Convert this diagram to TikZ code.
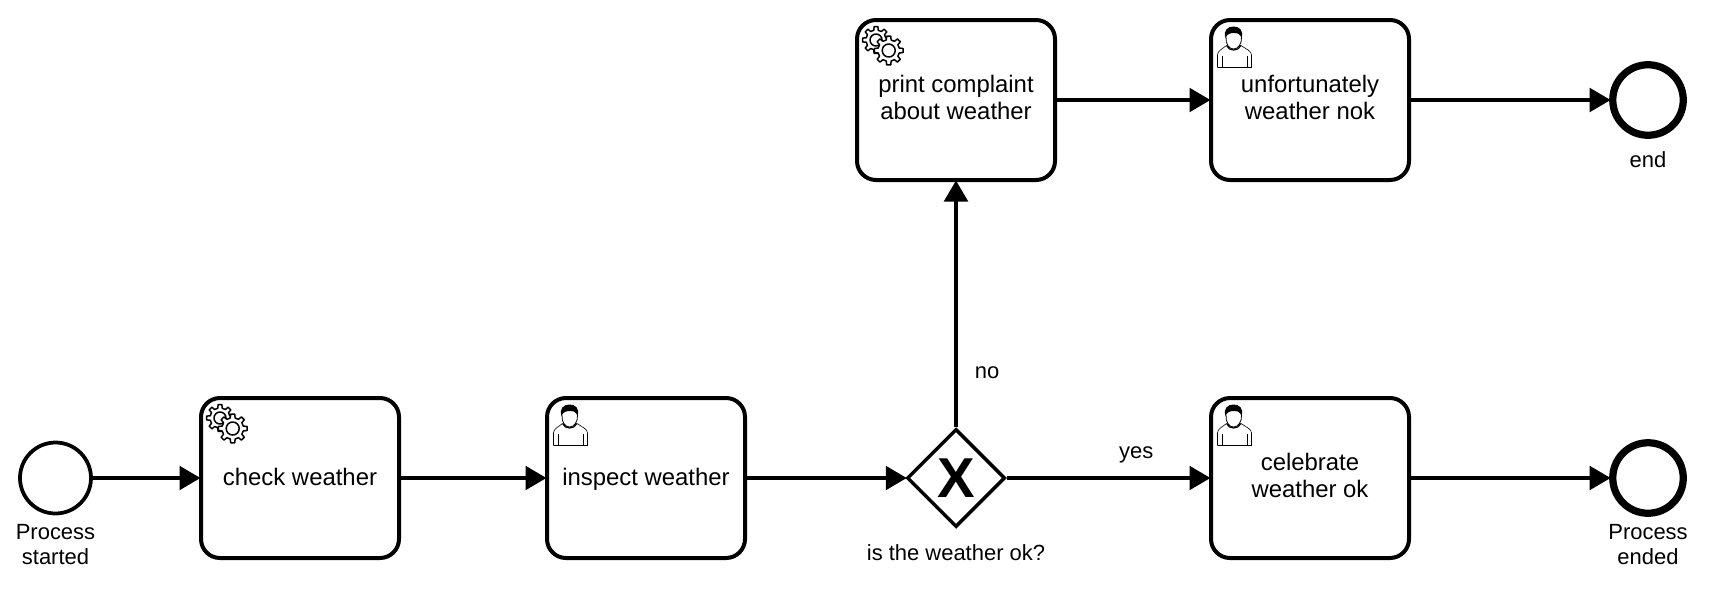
\documentclass[tikz,border=0pt]{standalone}
\usepackage{fontspec}
\setmainfont{Liberation Sans}
\usetikzlibrary{arrows.meta,positioning,shapes.geometric}

\newcommand{\taskstrut}{\vrule width 0pt height 11.5pt depth 2.84pt}

\tikzset{
	task/.style={draw, rectangle, rounded corners=0.38cm, line width=0.08cm, minimum width=3.96cm, minimum height=3.2cm, align=center, inner sep=0, font=\fontsize{13.6}{15.4}\selectfont, execute at begin node=\taskstrut, execute at end node=\taskstrut},
	startevent/.style={draw, circle, line width=0.075cm, minimum size=1.42cm, inner sep=0},
	endevent/.style={draw, circle, line width=0.145cm, minimum size=1.41cm, inner sep=0},
	gate/.style={draw, diamond, line width=0.07cm, minimum width=1.96cm, minimum height=1.96cm, inner sep=0, font=\fontsize{32}{32}\selectfont\bfseries},
	caption/.style={inner sep=0, align=center, font=\fontsize{12.5}{14.2}\selectfont},
	flow/.style={-{Triangle[length=0.42cm,width=0.47cm]}, line width=0.075cm, shorten >=-0.03cm},
	pics/gearicon/.style={code={
		\begin{scope}[x=0.02cm, y=-0.02cm, line width=0.03cm, line join=round]
			% back gear, then front gear over it
			\foreach \cx/\cy/\rout/\rin/\rhole in {21/22/13.5/10/6, 33.7/32.5/14.5/10.8/6.5}{
				\begin{scope}[shift={(\cx,\cy)}]
					\draw[fill=white] (-13:\rin) \foreach \a in {0,45,...,315}{
						-- (\a-13:\rin) -- (\a-8:\rout) -- (\a+8:\rout) -- (\a+13:\rin) } -- cycle;
					\draw (0,0) circle (\rhole);
				\end{scope}
			}
		\end{scope}
	}},
	pics/usericon/.style={code={
		\begin{scope}[x=0.02cm, y=-0.02cm, line width=0.012cm, line join=round]
			% body
			\draw (8.5,49.5) -- (8.5,37) .. controls (8.5,33) and (13,31) .. (17.5,27.5);
			\draw (42.5,49.5) -- (42.5,37) .. controls (42.5,33) and (37,31) .. (32,27.5);
			\draw (8.5,49.5) -- (42.5,49.5);
			\draw (13.5,38) -- (13.5,49.5);
			\draw (38,38) -- (38,49.5);
			\draw[line width=0.025cm] (17.5,27.5) .. controls (20,33.5) and (29,33.5) .. (32,27.5);
			% head and hair
			\draw[line width=0.016cm] (17,19) .. controls (16.5,26) and (20,31) .. (24.5,31) .. controls (29,31) and (33,26) .. (32.5,19);
			\fill (16.5,20) .. controls (14,12) and (19,8.5) .. (24.5,8.5) .. controls (30,8.5) and (35,12) .. (32.5,20) .. controls (31,16) and (29,15) .. (25,15) .. controls (21,15) and (18,16) .. (16.5,20) -- cycle;
		\end{scope}
	}}
}

\begin{document}
\begin{tikzpicture}
	\useasboundingbox (-1.11,-2.32) rectangle (33.13,9.56);
	% nodes
	\node[startevent] (started) at (0,0) {};
	\node[task, node distance=4.89cm, right of=started] (check) {check weather};
	\node[task, node distance=6.92cm, right of=check] (inspect) {inspect weather};
	\node[gate, node distance=6.2cm, right of=inspect] (gateway) {X};
	\node[task, node distance=7.08cm, right of=gateway] (celebrate) {celebrate\\weather ok};
	\node[endevent, node distance=6.76cm, right of=celebrate] (ended) {};
	\node[task, node distance=7.56cm, above of=gateway] (complaint) {print complaint\\about weather};
	\node[task, node distance=7.08cm, right of=complaint] (nok) {unfortunately\\weather nok};
	\node[endevent, node distance=6.76cm, right of=nok] (finish) {};

	\node[caption, node distance=1.335cm, below of=started] (startedlabel) {Process\\started};
	\node[caption, node distance=1.335cm, below of=ended] (endedlabel) {Process\\ended};
	\node[caption, node distance=1.5cm, below of=gateway] (gatewaylabel) {is the weather ok?};
	\node[caption, node distance=1.2cm, below of=finish] (finishlabel) {end};

	% icons
	\pic at (check.north west) {gearicon};
	\pic at (complaint.north west) {gearicon};
	\pic at (inspect.north west) {usericon};
	\pic at (nok.north west) {usericon};
	\pic at (celebrate.north west) {usericon};

	% connectors
	\draw[flow] (started) -- (check);
	\draw[flow] (check) -- (inspect);
	\draw[flow] (inspect) -- (gateway);
	\draw[flow] (gateway) -- node[caption, pos=0.64, above=0.27cm] {yes} (celebrate);
	\draw[flow] (gateway) -- node[caption, pos=0.223, right=0.34cm] {no} (complaint);
	\draw[flow] (celebrate) -- (ended);
	\draw[flow] (complaint) -- (nok);
	\draw[flow] (nok) -- (finish);
\end{tikzpicture}
\end{document}
